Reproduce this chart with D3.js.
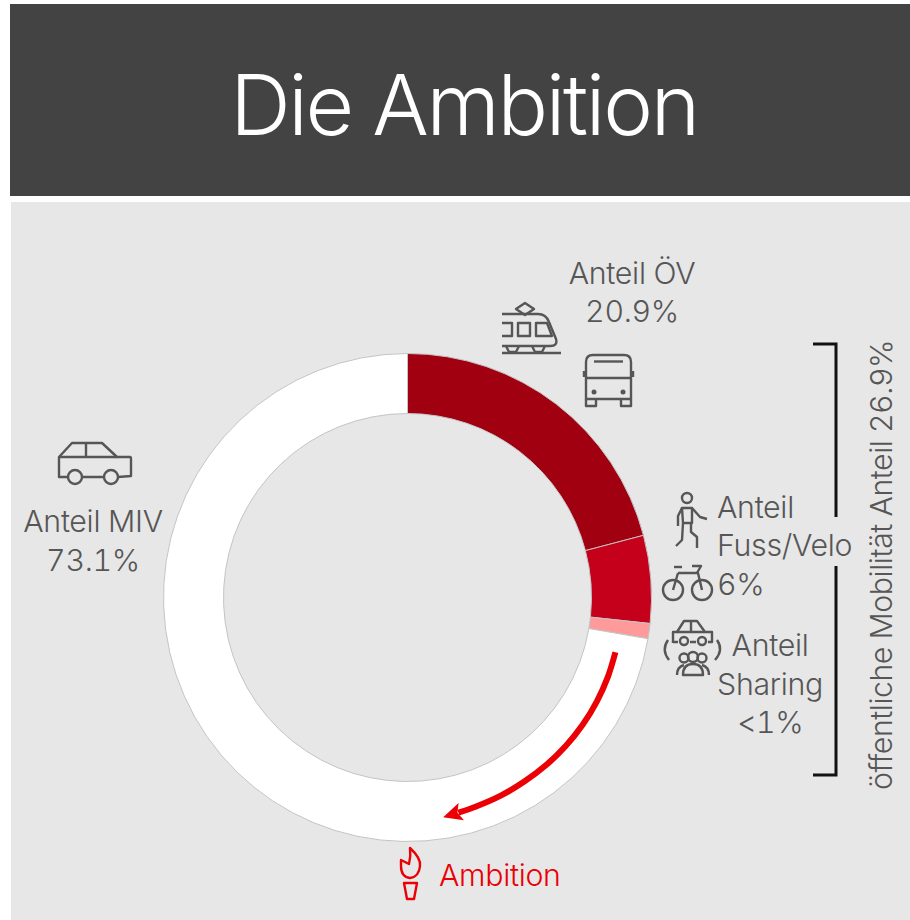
<!DOCTYPE html>
<html lang="de">
<head>
    <meta charset="UTF-8">
    <title>Die Ambition</title>
    <style>
        html, body { margin: 0; padding: 0; background: #fff; }
        svg { display: block; }
        text { font-family: Inter, "Liberation Sans", sans-serif; font-weight: 300; font-variant-numeric: tabular-nums; }
    </style>
</head>
<body>
    <svg id="chart" width="910" height="920"></svg>

    <script src="https://cdn.jsdelivr.net/npm/d3@7"></script>
    <script>
        // ring segments, clockwise from 12 o'clock
        const segments = ["Anteil ÖV", "Anteil Fuss/Velo", "Anteil Sharing", "Anteil MIV"];
        const shares = [20.9, 5.8, 1.0, 72.3];
        const segmentColors = ["#a00010", "#c4001a", "#ff9a9a", "#ffffff"];

        // the ambition arrow: [share position on the ring, radius]
        const arrowPath = [[29.1, 215], [31, 215.5], [33, 216], [35, 216.5], [37, 217], [39, 217.5], [41, 218], [43, 219], [45, 220], [46.3, 221]];

        const titleText = "Die Ambition";
        const bracketText = "öffentliche Mobilität Anteil 26.9%";
        const ambitionText = "Ambition";

        const grey = "#565656";
        const red = "#ea0005";
        const labelSize = 30.3;

        const svg = d3.select("#chart");

        svg.append("rect").attr("x", 10).attr("y", 4).attr("width", 900).attr("height", 192).attr("fill", "#434343");
        svg.append("rect").attr("x", 11).attr("y", 202).attr("width", 899).attr("height", 718).attr("fill", "#e7e7e7");

        svg.append("text")
            .attr("x", 464).attr("y", 135)
            .attr("text-anchor", "middle")
            .attr("font-size", 84)
            .attr("letter-spacing", -2.3)
            .attr("fill", "#fff")
            .text(titleText);

        // donut
        const ring = svg.append("g").attr("transform", "translate(407.5,597.5)");
        const pie = d3.pie().sort(null).value(d => d);
        const arc = d3.arc().innerRadius(184).outerRadius(244);
        const color = d3.scaleOrdinal().domain(segments).range(segmentColors);

        ring.selectAll("path.segment")
            .data(pie(shares))
            .join("path")
            .attr("class", "segment")
            .attr("d", arc)
            .attr("fill", (d, i) => color(segments[i]))
            .attr("stroke", "#c4c4c4")
            .attr("stroke-width", 1);

        // arrow
        const angle = d3.scaleLinear().domain([0, 100]).range([0, 2 * Math.PI]);
        const arrowLine = d3.lineRadial()
            .angle(d => angle(d[0]))
            .radius(d => d[1])
            .curve(d3.curveCatmullRom);

        svg.append("defs").append("marker")
            .attr("id", "arrowHead")
            .attr("markerUnits", "userSpaceOnUse")
            .attr("viewBox", "0 0 20 20")
            .attr("markerWidth", 20).attr("markerHeight", 20)
            .attr("refX", 3).attr("refY", 10)
            .attr("orient", "auto")
            .append("path")
            .attr("d", "M0,1 L19,10 L0,19 L4,10 Z")
            .attr("fill", red);

        ring.append("path")
            .attr("d", arrowLine(arrowPath))
            .attr("fill", "none")
            .attr("stroke", red)
            .attr("stroke-width", 6)
            .attr("marker-end", "url(#arrowHead)");

        // bracket
        svg.append("g").attr("fill", "none").attr("stroke", "#111").attr("stroke-width", 3)
            .selectAll("path")
            .data([[[813, 344], [836, 344], [836, 517]], [[836, 566], [836, 775], [813, 775]]])
            .join("path")
            .attr("d", d3.line());

        svg.append("text")
            .attr("transform", "translate(892,565) rotate(-90)")
            .attr("text-anchor", "middle")
            .attr("font-size", labelSize)
            .attr("letter-spacing", -0.48)
            .attr("fill", grey)
            .text(bracketText);

        // labels: text, x, baseline, anchor
        const labels = [
            ["Anteil ÖV", 632, 284, "middle"],
            ["20.9%", 632, 322, "middle"],
            ["Anteil MIV", 93, 532, "middle"],
            ["73.1%", 93, 571, "middle"],
            ["Anteil", 717, 518, "start"],
            ["Fuss/Velo", 717, 556, "start"],
            ["6%", 717, 595, "start"],
            ["Anteil", 770, 656, "middle"],
            ["Sharing", 770, 695, "middle"],
            ["<1%", 770, 733, "middle"]
        ];
        svg.append("g").selectAll("text")
            .data(labels)
            .join("text")
            .attr("x", d => d[1])
            .attr("y", d => d[2])
            .attr("text-anchor", d => d[3])
            .attr("font-size", labelSize)
            .attr("letter-spacing", -0.3)
            .attr("fill", grey)
            .text(d => d[0]);

        svg.append("text")
            .attr("x", 439).attr("y", 886)
            .attr("font-size", labelSize)
            .attr("letter-spacing", -0.3)
            .attr("fill", red)
            .text(ambitionText);

        // icons
        function icon(paths, circles, stroke, width) {
            const g = svg.append("g").attr("fill", "none").attr("stroke", stroke)
                .attr("stroke-width", width).attr("stroke-linejoin", "round");
            paths.forEach(p => g.append("path").attr("d", p));
            circles.forEach(c => g.append("circle").attr("cx", c[0]).attr("cy", c[1]).attr("r", c[2]));
            return g;
        }

        // train
        icon([
            "M502,353H561",
            "M502,314H538Q546,314 549,322L556,339Q558,346 550,346H502",
            "M502,323H512V336H502",
            "M518,323H530V336H518V323Z",
            "M536,323H547L552,336H536Z",
            "M525,303L534,309L525,315L516,309Z",
            "M506,346L509,352H516L519,346",
            "M532,346L535,352H542L545,346"
        ], [], grey, 2.4);

        // bus
        icon([
            "M586,399V362Q586,355 593,355H624Q631,355 631,362V399Z",
            "M594,361.5H623",
            "M586,378H631",
            "M586,399V406H596V399",
            "M621,399V406H631V399",
            "M584,371V377M633,371V377"
        ], [], grey, 2.4);
        svg.append("g").attr("fill", grey).selectAll("circle")
            .data([[594, 392], [623, 392]])
            .join("circle")
            .attr("cx", d => d[0]).attr("cy", d => d[1]).attr("r", 2.5);

        // walker
        icon([
            "M682,508H692V523H683Z",
            "M682,508L678,516V526",
            "M692,508L700,517L707,519",
            "M683,523L682,540L676,546",
            "M691,523V532L697,537V548"
        ], [[687, 498, 5]], grey, 2.4);

        // bike
        icon([
            "M674,567H682",
            "M692,566H701L697,573",
            "M678,573H698L702,590",
            "M678,573L673,590"
        ], [[673, 590, 10], [702, 590, 10]], grey, 2.4);

        // car and people for sharing
        icon([
            "M673,643V632H677L684,621H697L705,632H712V642H708M696,642H690M678,642H673",
            "M691,621V632M677,632H705",
            "M668,640Q661,650 669,660",
            "M717,640Q724,650 715,660",
            "M677,675Q677,667 684,665M709,675Q709,667 702,665",
            "M683,675Q683,664 693,664Q703,664 703,675Z"
        ], [[684, 641, 4], [702, 641, 4], [684, 658, 4.5], [693, 657, 5], [702, 658, 4.5]], grey, 2.4);

        // car MIV
        icon([
            "M68,477H59V457L72,443H102L117,457H130Q131,457 131,459V476L118,477M82,477H104",
            "M59,457H117M86,443V457"
        ], [[75, 477, 7], [111, 477, 7]], grey, 2.4);

        // torch
        icon([
            "M410,848Q421,858 420,866Q419,877 410,878Q401,877 401,866V860L409,864Q411,856 410,848Z",
            "M404,883H417L414,899H407Z"
        ], [], red, 2.4);
    </script>
</body>
</html>
